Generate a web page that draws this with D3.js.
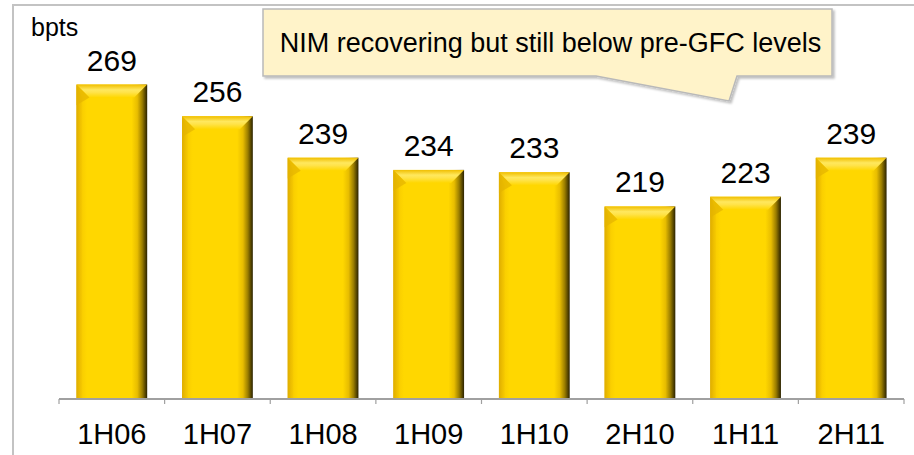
<!DOCTYPE html>
<html>
<head>
<meta charset="utf-8">
<script src="https://cdn.jsdelivr.net/npm/d3@7"></script>
<style>
  body { margin: 0; background: #fff; }
  svg { display: block; font-family: Arial, "Liberation Sans", sans-serif; }
</style>
</head>
<body>
<svg id="chart"></svg>
<script>
// Data
const categories = ["1H06", "1H07", "1H08", "1H09", "1H10", "2H10", "1H11", "2H11"];
const nimValues = [269, 256, 239, 234, 233, 219, 223, 239];
const unitLabel = "bpts";
const calloutText = "NIM recovering but still below pre-GFC levels";

const width = 914;
const height = 455;
const bevel = 13; // depth of the bar bevel

const svg = d3.select("#chart")
    .attr("width", width)
    .attr("height", height);

// Scales
const x = d3.scaleBand()
    .domain(categories)
    .range([59, 904])
    .padding(0);

const y = d3.scaleLinear()
    .domain([140, 300])
    .range([399, 9]);

const barW = x.bandwidth() * 0.67;
const barX = d => x(d) + (x.bandwidth() - barW) / 2;

// Gradients for the bevelled gold bars
const defs = svg.append("defs");

const bodyGrad = defs.append("linearGradient").attr("id", "bodyGrad")
    .attr("x1", 0).attr("x2", 1).attr("y1", 0).attr("y2", 0);
[[0, "#e9b800"], [0.05, "#f7ca00"], [0.15, "#ffd700"], [0.78, "#ffd700"], [0.86, "#e8bd00"],
 [0.93, "#9a7d00"], [1, "#2a2200"]]
    .forEach(s => bodyGrad.append("stop").attr("offset", s[0]).attr("stop-color", s[1]));

const topGrad = defs.append("linearGradient").attr("id", "topGrad")
    .attr("x1", 0).attr("x2", 0).attr("y1", 0).attr("y2", 1);
[[0, "#f0be00"], [0.4, "#ffe85e"], [0.6, "#ffe34a"], [1, "#ffd700"]]
    .forEach(s => topGrad.append("stop").attr("offset", s[0]).attr("stop-color", s[1]));

const leftGrad = defs.append("linearGradient").attr("id", "leftGrad")
    .attr("x1", 0).attr("x2", 1).attr("y1", 0).attr("y2", 0);
[[0, "#dcaa00"], [1, "#f6c900"]]
    .forEach(s => leftGrad.append("stop").attr("offset", s[0]).attr("stop-color", s[1]));

const shadow = defs.append("filter").attr("id", "boxShadow")
    .attr("x", "-5%").attr("y", "-10%").attr("width", "115%").attr("height", "130%");
shadow.append("feDropShadow").attr("dx", 2).attr("dy", 2).attr("stdDeviation", 1)
    .attr("flood-color", "#000").attr("flood-opacity", 0.25);

// Outer frame
svg.append("rect")
    .attr("x", 13).attr("y", 5)
    .attr("width", width + 20).attr("height", height + 20)
    .attr("fill", "none")
    .attr("stroke", "#c3c3c3")
    .attr("stroke-width", 2);

// Bars
const bars = svg.append("g").attr("class", "bars")
    .selectAll("g")
    .data(categories.map((c, i) => ({ cat: c, value: nimValues[i] })))
    .join("g");

bars.append("rect")
    .attr("x", d => barX(d.cat))
    .attr("y", d => y(d.value))
    .attr("width", barW)
    .attr("height", d => y.range()[0] - y(d.value))
    .attr("fill", "url(#bodyGrad)");

// left bevel strip
bars.append("polygon")
    .attr("points", d => {
        const x0 = barX(d.cat), t = y(d.value), b = y.range()[0];
        return [[x0, t], [x0 + bevel * 0.45, t + bevel], [x0 + bevel * 0.45, b], [x0, b]].join(" ");
    })
    .attr("fill", "url(#leftGrad)")
    .attr("opacity", 0.8);

// top bevel
bars.append("polygon")
    .attr("points", d => {
        const x0 = barX(d.cat), t = y(d.value);
        return [[x0, t], [x0 + barW, t], [x0 + barW - bevel, t + bevel], [x0 + bevel, t + bevel]].join(" ");
    })
    .attr("fill", "url(#topGrad)");

// top-left corner facet, a bit darker
bars.append("polygon")
    .attr("points", d => {
        const x0 = barX(d.cat), t = y(d.value);
        return [[x0, t], [x0 + bevel, t + bevel], [x0, t + bevel * 1.6]].join(" ");
    })
    .attr("fill", "#e4b300")
    .attr("opacity", 0.7);

// Value labels
bars.append("text")
    .attr("x", d => x(d.cat) + x.bandwidth() / 2)
    .attr("y", d => y(d.value) - 14)
    .attr("text-anchor", "middle")
    .attr("font-size", 30)
    .attr("fill", "#000")
    .text(d => d.value);

// Category axis (ticks between bands, Excel style)
const axis = svg.append("g").attr("class", "x-axis");
const axisY = y.range()[0];
const tickPos = categories.map(c => x(c)).concat([x.range()[1]]);

axis.append("line")
    .attr("x1", x.range()[0]).attr("x2", x.range()[1])
    .attr("y1", axisY).attr("y2", axisY)
    .attr("stroke", "#a0a0a0").attr("stroke-width", 2);

axis.selectAll("line.tick")
    .data(tickPos)
    .join("line")
    .attr("class", "tick")
    .attr("x1", d => d).attr("x2", d => d)
    .attr("y1", axisY).attr("y2", axisY + 5)
    .attr("stroke", "#a0a0a0").attr("stroke-width", 1.2);

axis.selectAll("text")
    .data(categories)
    .join("text")
    .attr("x", d => x(d) + x.bandwidth() / 2)
    .attr("y", 444)
    .attr("text-anchor", "middle")
    .attr("font-size", 29)
    .attr("fill", "#000")
    .text(d => d);

// Unit label
svg.append("text")
    .attr("x", 31)
    .attr("y", 36)
    .attr("font-size", 25)
    .attr("fill", "#000")
    .text(unitLabel);

// Callout box with pointer
const box = { x0: 263, y0: 9, x1: 832, y1: 76 };
const tip = [729, 101];
const callout = svg.append("g").attr("class", "callout");

callout.append("path")
    .attr("d", d3.line()([
        [box.x0, box.y0], [box.x1, box.y0], [box.x1, box.y1], [737, box.y1],
        tip, [596, box.y1], [box.x0, box.y1]
    ]) + "Z")
    .attr("fill", "#fff3c9")
    .attr("stroke", "#b9b9b9")
    .attr("stroke-width", 1.5)
    .attr("filter", "url(#boxShadow)");

callout.append("text")
    .attr("x", (box.x0 + box.x1) / 2 + 3)
    .attr("y", 52)
    .attr("text-anchor", "middle")
    .attr("font-size", 27)
    .attr("fill", "#000")
    .text(calloutText);
</script>
</body>
</html>
